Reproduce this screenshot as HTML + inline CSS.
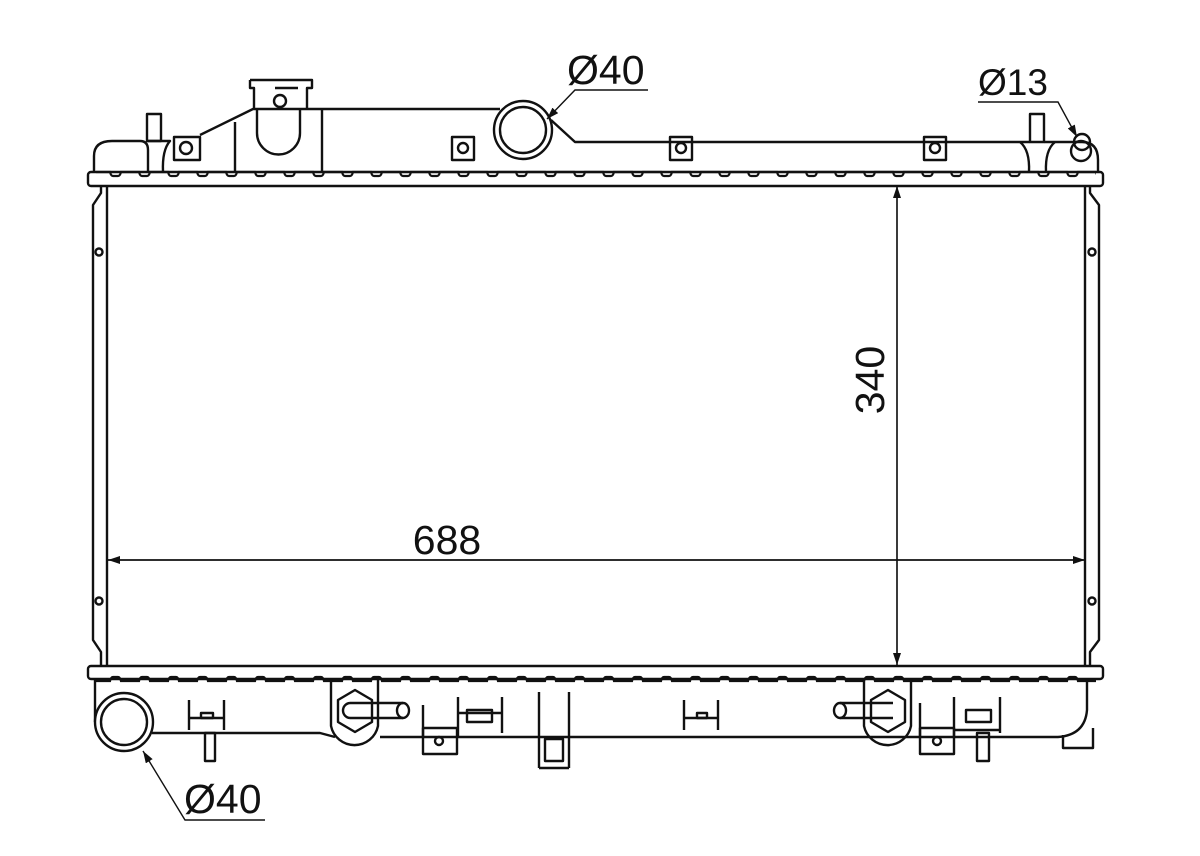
<!DOCTYPE html>
<html><head><meta charset="utf-8"><style>
html,body{margin:0;padding:0;background:#fff;}
svg{display:block;}
text{font-family:"Liberation Sans",Arial,sans-serif;fill:#111;}
</style></head><body>
<svg width="1200" height="856" viewBox="0 0 1200 856" xmlns="http://www.w3.org/2000/svg">
<defs>
<pattern id="notchT" x="100" y="168" width="29" height="12" patternUnits="userSpaceOnUse">
<path d="M0 4 H10 Q11 8 13 8 H18 Q20 8 21 4 H29" fill="none" stroke="#111" stroke-width="2.2"/>
</pattern>
<pattern id="notchB" x="100" y="673" width="29" height="12" patternUnits="userSpaceOnUse">
<path d="M0 8 H10 Q11 4 13 4 H18 Q20 4 21 8 H29" fill="none" stroke="#111" stroke-width="2.2"/>
</pattern>
<marker id="ar" markerWidth="12" markerHeight="8" refX="12" refY="4" orient="auto" markerUnits="userSpaceOnUse">
<path d="M0 0 L12 4 L0 8 Z" fill="#111"/>
</marker>
</defs>
<g fill="none" stroke="#111" stroke-width="2.4" stroke-linejoin="round">
<rect x="88" y="172" width="1015" height="14" rx="3"/>
<rect x="96" y="168" width="1000" height="12" fill="url(#notchT)" stroke="none"/>
<rect x="88" y="666" width="1015" height="13" rx="3"/>
<rect x="96" y="673" width="1000" height="12" fill="url(#notchB)" stroke="none"/>
<path d="M107 186 V666"/>
<path d="M101 186 V193 L93 205 V640 L101 652 V666"/>
<path d="M1085 186 V666"/>
<path d="M1090 186 V193 L1099 205 V640 L1090 652 V666"/>
<circle cx="99" cy="252" r="3.5"/><circle cx="99" cy="601" r="3.5"/>
<circle cx="1092" cy="252" r="3.5"/><circle cx="1092" cy="601" r="3.5"/>
<path d="M94 172 V156 Q94 141 112 141 H140 Q148 141 148 150 V172"/>
<rect x="147" y="114" width="14" height="27"/>
<path d="M148 141 H170 Q162 150 163 172"/>
<path d="M200 135 L253 109 H500"/>
<rect x="174" y="137" width="26" height="23"/><circle cx="186" cy="148" r="6"/>
<path d="M235 122 V172 M322 109 V172"/>
<path d="M250 80 H312 V88 H307 V109 M250 80 V88 H254 V109"/>
<path d="M275 88 H298"/>
<circle cx="280" cy="101" r="6"/>
<path d="M257 109 V133 A21 21 0 0 0 300 133 V109"/>
<circle cx="523" cy="130" r="29"/><circle cx="523" cy="130" r="23"/>
<path d="M551 120 L575 142 H1030"/>
<rect x="452" y="137" width="22" height="23"/><circle cx="463" cy="148" r="5"/>
<rect x="670" y="137" width="22" height="23"/><circle cx="681" cy="148" r="5"/>
<rect x="924" y="137" width="22" height="23"/><circle cx="935" cy="148" r="5"/>
<rect x="1030" y="114" width="14" height="28"/>
<path d="M1020 142 Q1030 150 1029 172 M1055 142 Q1045 150 1046 172"/>
<path d="M1044 142 H1082 Q1098 142 1098 160 V172"/>
<circle cx="1081" cy="151" r="10"/>
<circle cx="1082" cy="142" r="8"/>
<path d="M95 679 V722"/>
<path d="M152 733 H320 L335 737 M380 737 H1058 Q1085 735 1087 710 V679"/>
<circle cx="124" cy="722" r="29" fill="#fff"/><circle cx="124" cy="722" r="23"/>
<path d="M189 700 V730 M224 700 V730 M189 718 H224"/><rect x="201" y="713" width="12" height="5"/>
<rect x="205" y="733" width="10" height="28"/>
<path d="M331 679 V726 A24 24 0 0 0 378 726 V679"/>
<path d="M355 690 L372 700 V722 L355 732 L338 722 V700 Z"/>
<path d="M350 703 H403 M350 718 H403"/><ellipse cx="403" cy="710.5" rx="6" ry="7.5"/>
<path d="M343 710.5 A7.5 7.5 0 0 1 350 703 M343 710.5 A7.5 7.5 0 0 0 350 718"/>
<path d="M423 705 V737 M458 697 V737"/><rect x="423" y="728" width="34" height="26"/><circle cx="439" cy="741" r="4"/>
<path d="M458 713 H502 M502 697 V733"/><rect x="467" y="710" width="25" height="12"/>
<path d="M539 692 V768 M569 692 V768 M539 768 H569"/><rect x="545" y="739" width="18" height="22"/>
<path d="M684 700 V730 M718 700 V730 M684 718 H718"/><rect x="697" y="713" width="10" height="5"/>
<path d="M864 679 V726 A24 24 0 0 0 911 726 V679"/>
<path d="M888 690 L905 700 V722 L888 732 L871 722 V700 Z"/>
<path d="M840 703 H893 M840 718 H893"/><ellipse cx="840" cy="710.5" rx="6" ry="7.5"/>
<path d="M920 703 V737 M954 697 V737"/><rect x="920" y="728" width="34" height="26"/><circle cx="937" cy="741" r="4"/>
<path d="M954 730 H1000 M1000 697 V733"/><rect x="966" y="710" width="25" height="12"/>
<rect x="977" y="733" width="12" height="28"/>
<path d="M1063 735 V748 H1093 V728"/>
</g>
<g stroke="#111" stroke-width="1.4" fill="none">
<path d="M108 560 H1085" marker-end="url(#ar)"/>
<path d="M1085 560 H108" marker-end="url(#ar)"/>
<path d="M897 665 V186" marker-end="url(#ar)"/>
<path d="M897 186 V665" marker-end="url(#ar)"/>
<path d="M648 90 H575 L547 119" marker-end="url(#ar)"/>
<path d="M978 102 H1058 L1077 137" marker-end="url(#ar)"/>
<path d="M265 820 H185 L143 751" marker-end="url(#ar)"/>
</g>
<text x="567" y="84" font-size="41">Ø40</text>
<text x="978" y="95" font-size="37">Ø13</text>
<text x="184" y="813" font-size="41">Ø40</text>
<text x="447" y="554" font-size="41" text-anchor="middle">688</text>
<text x="0" y="0" font-size="41" text-anchor="middle" transform="translate(884,380) rotate(-90)">340</text>
</svg>
</body></html>
